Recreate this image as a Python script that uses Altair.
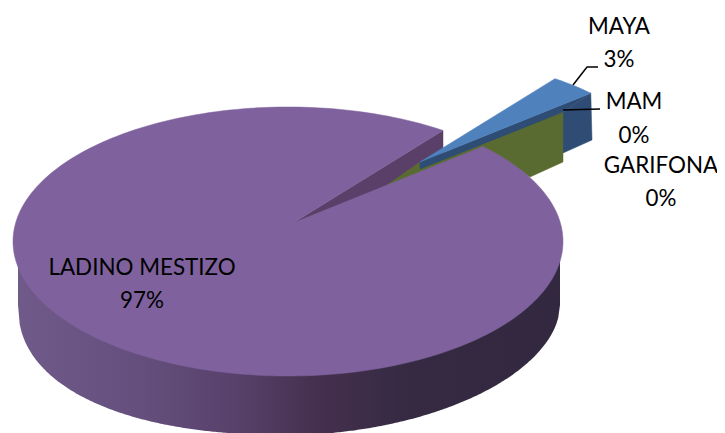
import math
import altair as alt
import pandas as pd

# ---- chart values ----
categories = ["LADINO MESTIZO", "MAYA", "MAM", "GARIFONA"]
percent = [97, 3, 0, 0]

# ---- drawing geometry of the 3-D pie (pixel space of the picture) ----
TOP = dict(cx=288.0, cy=241.5, rx=275.0, ry=134.5)
BOT = dict(cx=289.0, cy=305.0, rx=271.0, ry=130.0)
APEX = (293.0, 223.0)
START = 55.7
MAYA_APEX = (420.0, 162.0)
MAYA_SCALE = 0.9
X = alt.Scale(domain=[8, 717], range=[0, 709])
Y = alt.Scale(domain=[433, 8], range=[425, 0])


def on_top(t):
    a = math.radians(t)
    return (TOP["cx"] + TOP["rx"] * math.cos(a), TOP["cy"] - TOP["ry"] * math.sin(a))


def poly(points, color):
    closed = list(points) + [points[0]]
    df = pd.DataFrame({"x": [p[0] for p in closed], "y": [p[1] for p in closed], "i": range(len(closed))})
    return alt.Chart(df).mark_line(fill=color, stroke=color, strokeWidth=0.5, interpolate="linear").encode(
        x=alt.X("x:Q", scale=X, axis=None),
        y=alt.Y("y:Q", scale=Y, axis=None),
        order="i:Q",
    )


span_main = percent[0] * 3.6
span_maya = percent[1] * 3.6
main_top = [APEX] + [on_top(START + span_main * k / 240) for k in range(241)]
P1 = on_top(START)

maya_arc = []
for k in range(9):
    px, py = on_top(START - span_maya * k / 8)
    maya_arc.append((MAYA_APEX[0] + (px - APEX[0]) * MAYA_SCALE, MAYA_APEX[1] + (py - APEX[1]) * MAYA_SCALE))
M2 = maya_arc[-1]
maya_top = [MAYA_APEX] + maya_arc

# side wall of the big slice
n = 300
wx, wy = [], []
for k in range(n + 1):
    x = BOT["cx"] - BOT["rx"] + 2 * BOT["rx"] * k / n
    d = abs(x - BOT["cx"]) / BOT["rx"]
    p = 2.25 if x < BOT["cx"] else 1.9
    wx.append(x)
    wy.append(BOT["cy"] + BOT["ry"] * max(0, 1 - d ** p) ** (1 / p))
wall_df = pd.DataFrame({"x": wx, "y": wy, "y2": [TOP["cy"] + 10] * len(wx)})
gradient = alt.Gradient(
    gradient="linear", x1=0, x2=1, y1=0, y2=0,
    stops=[
        alt.GradientStop(color="#6f5a8a", offset=0.0),
        alt.GradientStop(color="#66507f", offset=0.2),
        alt.GradientStop(color="#58426b", offset=0.4),
        alt.GradientStop(color="#45304f", offset=0.55),
        alt.GradientStop(color="#352a42", offset=0.72),
        alt.GradientStop(color="#322840", offset=1.0),
    ],
)
wall = alt.Chart(wall_df).mark_area(fill=gradient, interpolate="linear").encode(
    x=alt.X("x:Q", scale=X, axis=None),
    y=alt.Y("y:Q", scale=Y, axis=None),
    y2="y2:Q",
)

inner_wall = poly([APEX, P1, (P1[0], P1[1] + 56), (APEX[0], APEX[1] + 56)], "#5a4068")
green = poly([(387, 185), MAYA_APEX, (563, 112), (563, 162), (530, 177), (483, 148)], "#5a6b32")
maya_rim = poly([(563, 112), M2, (592, 140), (563, 153)], "#2e4c74")
maya_strip = poly([MAYA_APEX, M2, (563, 112), (420, 169)], "#2e4c74")
maya_face = poly(maya_top, "#4f81bd")
main_face = poly(main_top, "#7f629d")

leaders = pd.DataFrame({
    "x": [573, 587, 598, 563, 600],
    "y": [85, 67, 67, 110, 109],
    "g": ["MAYA", "MAYA", "MAYA", "MAM", "MAM"],
    "i": [0, 1, 2, 0, 1],
})
leader = alt.Chart(leaders).mark_line(color="#000000", strokeWidth=1.5).encode(
    x=alt.X("x:Q", scale=X, axis=None),
    y=alt.Y("y:Q", scale=Y, axis=None),
    detail="g:N",
    order="i:Q",
)

label_x = [142, 619, 634, 661]
name_y = [268, 27, 102, 166]
pct_y = [301, 60, 136, 199]
rows = []
for c, p, xx, y1, y2 in zip(categories, percent, label_x, name_y, pct_y):
    rows.append({"x": xx, "y": y1, "t": c})
    rows.append({"x": xx, "y": y2, "t": f"{p}%"})
text = alt.Chart(pd.DataFrame(rows)).mark_text(
    font="Lato", fontSize=22.4, color="#000000", align="center", baseline="middle"
).encode(
    x=alt.X("x:Q", scale=X, axis=None),
    y=alt.Y("y:Q", scale=Y, axis=None),
    text="t:N",
)

chart = alt.layer(
    wall, inner_wall, maya_rim, green, maya_strip, maya_face, main_face, leader, text
).properties(
    width=709, height=425, padding=0, background="#ffffff",
    autosize=alt.AutoSizeParams(type="none"),
).configure_view(stroke=None, strokeWidth=0)

chart.save("out.html", embed_options={"renderer": "svg", "actions": False})
